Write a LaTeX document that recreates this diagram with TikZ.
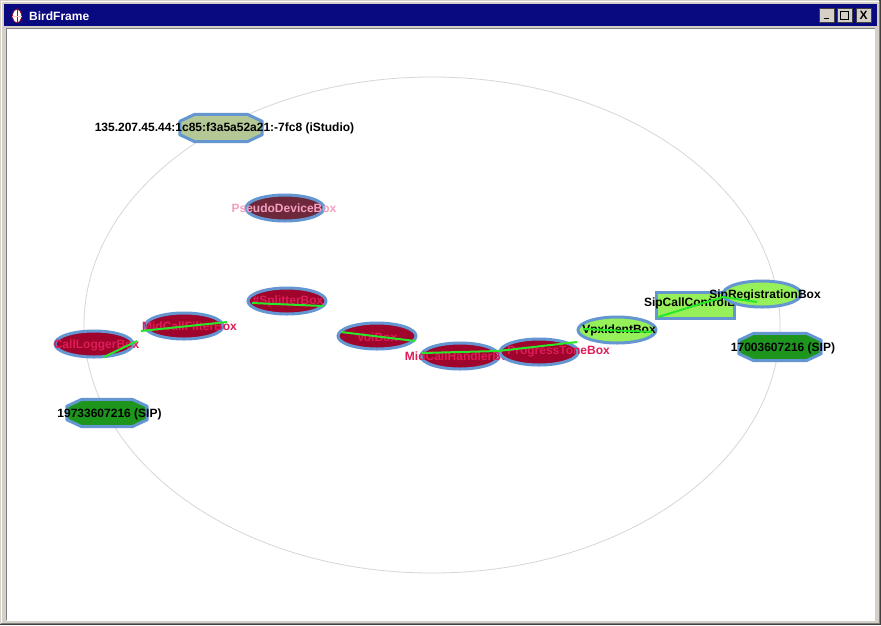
\documentclass[tikz,border=0pt]{standalone}
\usepackage{fontspec}
\setmainfont{Liberation Sans}
\usetikzlibrary{shapes.geometric}
\definecolor{wingray}{RGB}{212,208,200}
\definecolor{windark}{RGB}{64,64,64}
\definecolor{navybar}{RGB}{10,10,128}
\definecolor{ringgray}{RGB}{215,215,215}
\definecolor{nodeblue}{RGB}{100,150,210}
\definecolor{maroonfill}{RGB}{158,4,44}
\definecolor{pseudofill}{RGB}{110,40,60}
\definecolor{olivefill}{RGB}{180,200,150}
\definecolor{sipgreen}{RGB}{30,150,30}
\definecolor{lightgreen}{RGB}{150,240,90}
\definecolor{crimsonlbl}{RGB}{222,28,88}
\definecolor{pinklbl}{RGB}{245,160,190}
\definecolor{edgered}{RGB}{230,20,20}
\definecolor{pathgreen}{RGB}{40,230,40}
\pgfdeclarelayer{bg}
\pgfsetlayers{bg,main}
\tikzset{
  nd/.style={draw=nodeblue, line width=3pt, minimum width=78pt, minimum height=26pt, inner sep=0pt},
  ell/.style={nd, ellipse},
  octframe/.style={rectangle, minimum width=80pt, minimum height=27pt, inner sep=0pt},
  octline/.style={draw=nodeblue, line width=3pt, line join=round},
  boxnode/.style={nd, rectangle},
  lbl/.style={font=\bfseries\fontsize{12}{14}\selectfont, inner sep=0pt},
  rededge/.style={draw=edgered, line width=2pt},
  blueedge/.style={draw=nodeblue, line width=2pt},
  greenpath/.style={draw=pathgreen, line width=2pt},
  winbtn/.style={fill=wingray, draw=windark, line width=0.8pt, minimum width=15pt, minimum height=14pt, inner sep=0pt}
}
\newcommand{\octfill}[2]{%
  \filldraw[octline, fill=#2] ([xshift=15pt]#1.north west) -- ([xshift=-15pt]#1.north east)
    -- ([yshift=-7pt]#1.north east) -- ([yshift=7pt]#1.south east)
    -- ([xshift=-15pt]#1.south east) -- ([xshift=15pt]#1.south west)
    -- ([yshift=7pt]#1.south west) -- ([yshift=-7pt]#1.north west) -- cycle;}
\begin{document}
\begin{tikzpicture}[x=1pt,y=-1pt]
\useasboundingbox (0,0) rectangle (881,625);
% window frame
\fill[wingray] (0,0) rectangle (881,625);
\draw[white, line width=1pt] (1,624) -- (1,1) -- (879,1);
\draw[windark, line width=1.2pt] (880,0) -- (880,624.4) -- (0,624.4);
\draw[gray, line width=0.8pt] (879,1) -- (879,623) -- (1,623);
\fill[navybar] (4,4) rectangle (877,26);
\fill[white] (7,29) rectangle (874,620);
\draw[gray, line width=0.8pt] (6.5,620) -- (6.5,28.5) -- (874.5,28.5);
\draw[white, line width=0.8pt] (874.5,28.5) -- (874.5,620.5) -- (6.5,620.5);
% title bar
\node[anchor=west, text=white, font=\bfseries\fontsize{12}{14}\selectfont, inner sep=0pt] (title) at (29,16) {BirdFrame};
\node[fill=white, draw=red!70!black, line width=0.6pt, ellipse, minimum width=9pt, minimum height=13pt, inner sep=0pt] (icon) at (17,16) {};
\draw[red!80!black, line width=1pt] (icon.north) -- (icon.south);
\draw[pink, line width=1pt] (icon.west) -- (icon.east);
\node[winbtn] (bmin) at (826.5,15) {};
\node[winbtn] (bmax) at (844.5,15) {};
\node[winbtn] (bclose) at (863.5,15) {};
\draw[black, line width=1.5pt] ([xshift=-3pt,yshift=-3.5pt]bmin.center) -- ([xshift=2pt,yshift=-3.5pt]bmin.center);
\draw[black, line width=1pt] ([xshift=-4pt,yshift=-4pt]bmax.center) rectangle ([xshift=4pt,yshift=4pt]bmax.center);
\draw[black, line width=1.4pt] ([xshift=-4pt,yshift=3.5pt]bmax.center) -- ([xshift=4pt,yshift=3.5pt]bmax.center);
\node[font=\bfseries\fontsize{12}{12}\selectfont, inner sep=0pt] (xlbl) at (bclose) {X};
% big ring
\draw[ringgray, line width=0.8pt] (432,325) ellipse [x radius=348pt, y radius=248pt];
% nodes, each followed by its label
\node[octframe, minimum width=82pt] (ist) at (221,128) {};
\octfill{ist}{olivefill}
\node[lbl] (istl) at (224.5,128) {135.207.45.44:1c85:f3a5a52a21:-7fc8 (iStudio)};
\node[ell, fill=pseudofill] (pdb) at (285,208) {};
\node[lbl, text=pinklbl] (pdbl) at (284,208) {PseudoDeviceBox};
\node[ell, fill=maroonfill] (spl) at (287,301) {};
\node[lbl, text=crimsonlbl] (spll) at (288,301) {\#SplitterBox};
\node[ell, fill=maroonfill] (mcf) at (184,326) {};
\node[lbl, text=crimsonlbl] (mcfl) at (189.5,326) {MidCallFilterBox};
\node[ell, fill=maroonfill] (clb) at (94,344) {};
\node[lbl, text=crimsonlbl] (clbl) at (96.5,345) {CallLoggerBox};
\node[octframe] (sipa) at (107,413) {};
\octfill{sipa}{sipgreen}
\node[lbl] (sipal) at (109.5,414) {19733607216 (SIP)};
\node[ell, fill=maroonfill] (voi) at (377,336) {};
\node[lbl, text=crimsonlbl] (voil) at (377,337) {VoiBox};
\node[ell, fill=maroonfill] (mch) at (460,356) {};
\node[lbl, text=crimsonlbl] (mchl) at (460,356) {MidCallHandlerBox};
\node[ell, fill=maroonfill] (cpt) at (539,352) {};
\node[lbl, text=crimsonlbl, anchor=east] (cptl) at (610,352) {ProgressToneBox};
\node[ell, fill=lightgreen] (vpx) at (617,330) {};
\node[lbl] (vpxl) at (619,330) {VpxIdentBox};
\node[boxnode, fill=lightgreen] (scc) at (695,305) {};
\node[lbl] (sccl) at (697,303) {SipCallControlBox};
\node[ell, fill=lightgreen] (srb) at (762,294) {};
\node[lbl] (srbl) at (765,295) {SipRegistrationBox};
\node[octframe, minimum width=82pt] (sipb) at (780,347) {};
\octfill{sipb}{sipgreen}
\node[lbl] (sipbl) at (783,348) {17003607216 (SIP)};
% connectors (behind nodes)
\begin{pgfonlayer}{bg}
\draw[rededge] ([xshift=11pt]ist.south) -- (pdb.155);
\draw[blueedge] (pdb.south) -- (pdb.south |- spl.north);
\draw[blueedge] (spl.186) -- (mcf.15);
\draw[blueedge] (mcf.190) -- (clb.5);
\draw[rededge] ([xshift=9pt]clb.south) -- ([xshift=-1pt]sipa.north);
\draw[blueedge] (spl.-15) -- (voi.163);
\draw[blueedge] (voi.-10) -- (mch.167);
\draw[blueedge] (cpt.12) -- (vpx.185);
\draw[blueedge] (vpx.15) -- (scc.south west);
\draw[rededge] (srb.-40) -- (sipb.north);
\end{pgfonlayer}
% call path, drawn over the nodes
\coordinate (g1) at (104,357);
\coordinate (g2) at (137,341);
\coordinate (g3) at (141,331);
\coordinate (g4) at (227,322);
\coordinate (g5) at (252,303);
\coordinate (g6) at (323,306);
\coordinate (g7) at (341,332);
\coordinate (g8) at (415,341);
\coordinate (g9) at (422,353);
\coordinate (g10) at (498,351);
\coordinate (g11) at (577,342);
\coordinate (g12) at (583,329);
\coordinate (g13) at (652,332);
\coordinate (g14) at (658,317);
\coordinate (g15) at (723,297);
\coordinate (g16) at (757,302);
\draw[greenpath] (g1) -- (g2);
\draw[greenpath] (g3) -- (g4);
\draw[greenpath] (g5) -- (g6);
\draw[greenpath] (g7) -- (g8);
\draw[greenpath] (g9) -- (g10) -- (g11);
\draw[greenpath] (g12) -- (g13);
\draw[greenpath] (g14) -- (g15) -- (g16);
\end{tikzpicture}
\end{document}
